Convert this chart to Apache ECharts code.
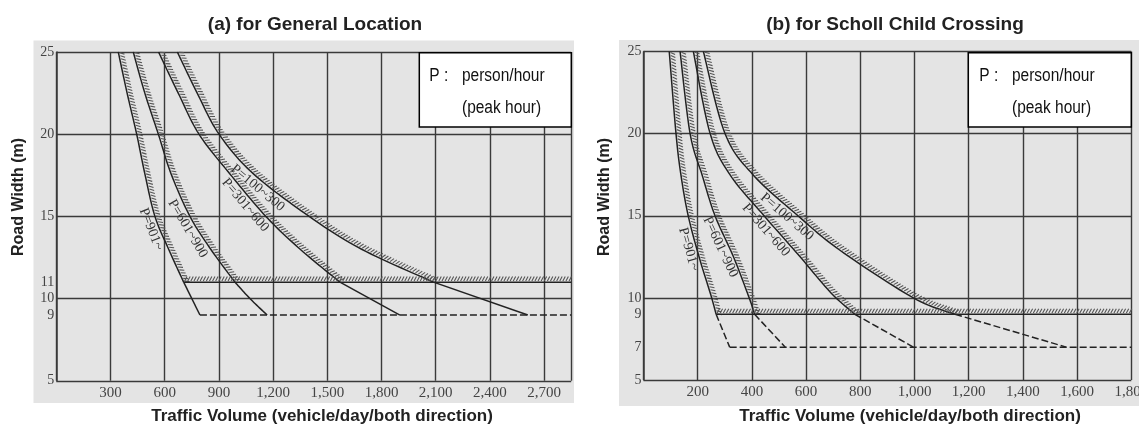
<!DOCTYPE html>
<html><head><meta charset="utf-8">
<script src="https://cdn.jsdelivr.net/npm/echarts@6.0.0/dist/echarts.min.js"></script>
<style>html,body{margin:0;padding:0;background:#fff}#c{width:1139px;height:426px}</style>
</head><body><div id="c"></div>
<script>
// ---------------- DATA ----------------
const curveNames = ['P=100~300', 'P=301~600', 'P=601~900', 'P=901~'];
// (a) General Location: road width (m) vs traffic volume
const aXTicks = [300, 600, 900, 1200, 1500, 1800, 2100, 2400, 2700];
const aYTicks = [5, 9, 10, 11, 15, 20, 25];
const aY_P100 = [25, 22.5, 20, 17.6, 15, 13, 11, 9];
const aX_P100 = [670, 780, 901, 1090, 1400, 1690, 2088, 2610];
const aY_P301 = [25, 22.5, 20, 17.6, 15, 13, 11, 9];
const aX_P301 = [566, 675, 790, 960, 1160, 1350, 1570, 1902];
const aY_P601 = [25, 22.5, 20, 17.6, 15, 13, 11, 10, 9];
const aX_P601 = [426, 490, 565, 635, 740, 855, 989, 1072, 1167];
const aY_P901 = [25, 22.5, 20, 17.6, 15, 13, 11, 9];
const aX_P901 = [343, 392, 445, 490, 546, 622, 705, 795];
const aLimitY = 11;   // hatched boundary
const aMinY = 9;      // dashed minimum
const aLabelY = [17.1, 16.0, 14.5, 14.4];
// (b) School Child Crossing
const bXTicks = [200, 400, 600, 800, 1000, 1200, 1400, 1600, 1800];
const bYTicks = [5, 7, 9, 10, 15, 20, 25];
const bY_P100 = [25, 20, 17.5, 15, 12.9, 10, 9, 7];
const bX_P100 = [221, 301, 404, 570, 725, 996, 1150, 1560];
const bY_P301 = [25, 20, 17.5, 15, 12.5, 10.3, 9, 7];
const bX_P301 = [184, 246, 319, 445, 578, 692, 780, 996];
const bY_P601 = [25, 20, 17.5, 15, 12.5, 10, 9, 7];
const bX_P601 = [135, 172, 216, 264, 332, 390, 410, 523];
const bY_P901 = [25, 20, 17.5, 15, 12.5, 10.2, 9, 7];
const bX_P901 = [95, 120, 138, 165, 205, 248, 268, 318];
const bLimitY = 9;
const bMinY = 7;
const bLabelY = [15.3, 14.45, 13.3, 13.1];

// ---------------- STYLE / LAYOUT ----------------
const SERIF = "'Liberation Serif','DejaVu Serif',serif";
const SANS = "'Liberation Sans',Arial,sans-serif";
const GRID_COLOR = '#3a3a3a';
const LINE_COLOR = '#222';
const panels = [
  { xMax: 2850, interval: 300, xTicks: aXTicks, yTicks: aYTicks,
    curves: [{x: aX_P100, y: aY_P100}, {x: aX_P301, y: aY_P301}, {x: aX_P601, y: aY_P601}, {x: aX_P901, y: aY_P901}],
    limitY: aLimitY, minY: aMinY, lowerDashed: false, labelY: aLabelY,
    grid: {left: 56.3, top: 52, width: 514.9, height: 328.8} },
  { xMax: 1800, interval: 200, xTicks: bXTicks, yTicks: bYTicks,
    curves: [{x: bX_P100, y: bY_P100}, {x: bX_P301, y: bY_P301}, {x: bX_P601, y: bY_P601}, {x: bX_P901, y: bY_P901}],
    limitY: bLimitY, minY: bMinY, lowerDashed: true, labelY: bLabelY,
    grid: {left: 643.5, top: 51.5, width: 487.8, height: 328.5} }
];

function catmull(p, n) {
  if (p.length < 3) return p;
  const out = [];
  for (let i = 0; i < p.length - 1; i++) {
    const p0 = p[Math.max(i - 1, 0)], p1 = p[i], p2 = p[i + 1], p3 = p[Math.min(i + 2, p.length - 1)];
    for (let k = 0; k < n; k++) {
      const t = k / n, t2 = t * t, t3 = t2 * t;
      const f = j => 0.5 * (2 * p1[j] + (-p0[j] + p2[j]) * t + (2 * p0[j] - 5 * p1[j] + 4 * p2[j] - p3[j]) * t2 + (-p0[j] + 3 * p1[j] - 3 * p2[j] + p3[j]) * t3);
      out.push([f(0), f(1)]);
    }
  }
  out.push(p[p.length - 1]);
  return out;
}

function buildSegments(pn) {
  const segs = [];
  pn.curves.forEach(c => {
    const up = {x: [], y: []}, lo = {x: [], y: []};
    c.y.forEach((y, i) => {
      if (y >= pn.limitY) { up.x.push(c.x[i]); up.y.push(y); }
      if (y <= pn.limitY) { lo.x.push(c.x[i]); lo.y.push(y); }
    });
    segs.push(Object.assign(up, {hatch: true, dash: false}));
    segs.push(Object.assign(lo, {hatch: false, dash: pn.lowerDashed}));
  });
  const A = pn.curves[3];
  segs.push({x: [A.x[A.y.indexOf(pn.limitY)], pn.xMax], y: [pn.limitY, pn.limitY], hatch: true, dash: false});
  segs.push({x: [A.x[A.y.indexOf(pn.minY)], pn.xMax], y: [pn.minY, pn.minY], hatch: false, dash: true});
  return segs;
}

function segRender(segs) {
  return function (params, api) {
    const s = segs[params.dataIndex];
    const px = s.x.map((x, i) => api.coord([x, s.y[i]]));
    const pts = catmull(px, 14);
    const children = [{
      type: 'polyline', shape: {points: pts},
      style: {stroke: LINE_COLOR, lineWidth: 1.5, fill: null, lineDash: s.dash ? [7, 3] : null}
    }];
    if (s.hatch) {
      let d = '', next = 1, walked = 0;
      const step = 3.1;
      for (let i = 0; i < pts.length - 1; i++) {
        const x0 = pts[i][0], y0 = pts[i][1], x1 = pts[i + 1][0], y1 = pts[i + 1][1];
        const L = Math.hypot(x1 - x0, y1 - y0);
        if (!L) continue;
        const tx = (x1 - x0) / L, ty = (y1 - y0) / L, nx = ty, ny = -tx;
        while (next <= walked + L) {
          const u = next - walked, x = x0 + tx * u, y = y0 + ty * u;
          d += 'M' + (x + nx * 1.2).toFixed(2) + ' ' + (y + ny * 1.2).toFixed(2) +
               'L' + (x + nx * 5.6 + tx * 2.4).toFixed(2) + ' ' + (y + ny * 5.6 + ty * 2.4).toFixed(2);
          next += step;
        }
        walked += L;
      }
      if (d) children.push({type: 'path', shape: {pathData: d}, style: {stroke: '#555', lineWidth: 1.1, fill: null}});
    }
    return {type: 'group', children: children};
  };
}

function labelRender(pn) {
  return function (params, api) {
    const ci = params.dataIndex;
    const c = pn.curves[ci];
    const px = c.x.map((x, i) => api.coord([x, c.y[i]])).filter((p, i) => c.y[i] >= pn.limitY);
    const pts = catmull(px, 14);
    const ty0 = api.coord([0, pn.labelY[ci]])[1];
    let k = 0;
    while (k < pts.length - 2 && pts[k + 1][1] < ty0) k++;
    const a = pts[k], b = pts[k + 1];
    const L = Math.hypot(b[0] - a[0], b[1] - a[1]) || 1;
    const tx = (b[0] - a[0]) / L, ty = (b[1] - a[1]) / L, nx = ty, ny = -tx;
    const f = (ty0 - a[1]) / ((b[1] - a[1]) || 1);
    const x = a[0] + (b[0] - a[0]) * f - nx * 8, y = ty0 - ny * 8;
    return {
      type: 'text', x: x, y: y, rotation: -Math.atan2(ty, tx),
      style: {text: curveNames[ci], font: '14px ' + SERIF, fill: '#333', align: 'center', verticalAlign: 'middle'}
    };
  };
}

function boxText(x, y, text) {
  return {type: 'text', z: 101, x: x, y: y, scaleX: 0.86,
    style: {text: text, font: '18px ' + SANS, fill: '#111', verticalAlign: 'middle'}};
}

const option = {
  backgroundColor: '#ffffff',
  animation: false,
  grid: panels.map(p => Object.assign({containLabel: false, outerBoundsMode: 'none'}, p.grid)),
  xAxis: panels.map((p, i) => ({
    type: 'value', gridIndex: i, min: 0, max: p.xMax, interval: p.interval,
    axisLine: {show: false}, axisTick: {show: false},
    axisLabel: {margin: 5, color: '#444', fontFamily: SERIF, fontSize: 15, hideOverlap: false,
      formatter: v => p.xTicks.includes(v) ? v.toLocaleString('en-US') : ''},
    splitLine: {show: true, lineStyle: {color: GRID_COLOR, width: 1.4}}
  })),
  yAxis: [].concat(...panels.map((p, i) => [
    { type: 'value', gridIndex: i, position: 'left', min: 5, max: 25, interval: 5,
      axisLine: {show: true, lineStyle: {color: GRID_COLOR, width: 1.5}}, axisTick: {show: false},
      axisLabel: {show: false}, splitLine: {show: true, lineStyle: {color: GRID_COLOR, width: 1.4}} },
    { type: 'value', gridIndex: i, position: 'left', offset: 0, min: 5, max: 25, interval: 1,
      axisLine: {show: false}, axisTick: {show: false}, splitLine: {show: false},
      axisLabel: {margin: 2, color: '#444', fontFamily: SERIF, fontSize: 14,
        formatter: v => p.yTicks.includes(v) ? String(v) : ''} }
  ])),
  series: [].concat(...panels.map((p, i) => {
    const segs = buildSegments(p);
    return [
      { type: 'custom', xAxisIndex: i, yAxisIndex: i * 2, silent: true, z: 3,
        data: segs.map((s, k) => [k]), renderItem: segRender(segs) },
      { type: 'custom', xAxisIndex: i, yAxisIndex: i * 2, silent: true, z: 4,
        data: p.curves.map((c, k) => [k]), renderItem: labelRender(p) }
    ];
  })),
  graphic: [
    {type: 'rect', z: -10, shape: {x: 33.5, y: 40.5, width: 540.5, height: 362.5}, style: {fill: '#e4e4e4'}},
    {type: 'rect', z: -10, shape: {x: 619, y: 40, width: 520, height: 366}, style: {fill: '#e4e4e4'}},
    {type: 'rect', z: 100, shape: {x: 419.3, y: 52.7, width: 152, height: 74.3}, style: {fill: '#fff', stroke: '#000', lineWidth: 1.5}},
    boxText(429.3, 76, 'P :'), boxText(462, 76, 'person/hour'), boxText(462, 108, '(peak hour)'),
    {type: 'rect', z: 100, shape: {x: 968.3, y: 52.7, width: 163, height: 74.3}, style: {fill: '#fff', stroke: '#000', lineWidth: 1.5}},
    boxText(979.3, 76, 'P :'), boxText(1012, 76, 'person/hour'), boxText(1012, 108, '(peak hour)'),
    {type: 'text', x: 315, y: 25, style: {text: '(a) for General Location', font: 'bold 19px ' + SANS, fill: '#222', align: 'center', verticalAlign: 'middle'}},
    {type: 'text', x: 895, y: 25, style: {text: '(b) for Scholl Child Crossing', font: 'bold 19px ' + SANS, fill: '#222', align: 'center', verticalAlign: 'middle'}},
    {type: 'text', x: 322, y: 416, style: {text: 'Traffic Volume (vehicle/day/both direction)', font: 'bold 17px ' + SANS, fill: '#222', align: 'center', verticalAlign: 'middle'}},
    {type: 'text', x: 910, y: 416, style: {text: 'Traffic Volume (vehicle/day/both direction)', font: 'bold 17px ' + SANS, fill: '#222', align: 'center', verticalAlign: 'middle'}},
    {type: 'text', x: 19, y: 197, rotation: Math.PI / 2, style: {text: 'Road Width (m)', font: 'bold 16px ' + SANS, fill: '#222', align: 'center', verticalAlign: 'middle'}},
    {type: 'text', x: 605, y: 197, rotation: Math.PI / 2, style: {text: 'Road Width (m)', font: 'bold 16px ' + SANS, fill: '#222', align: 'center', verticalAlign: 'middle'}}
  ]
};
const chart = echarts.init(document.getElementById('c'));
chart.setOption(option);
</script></body></html>
